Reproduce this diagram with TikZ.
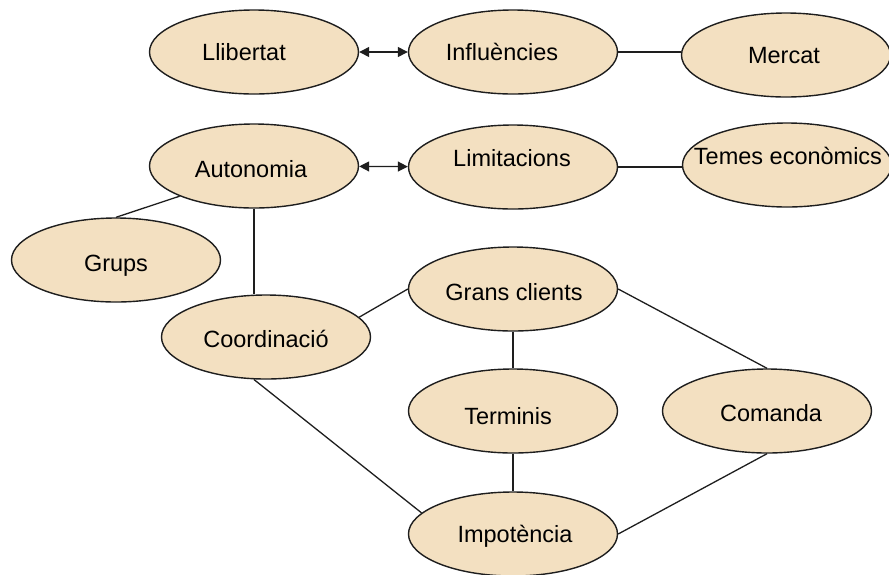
\documentclass[tikz,border=0pt]{standalone}
\usepackage{fontspec}
\setmainfont{Liberation Sans}
\usetikzlibrary{arrows.meta,shapes.geometric}
\definecolor{elfill}{RGB}{243,224,193}
\definecolor{elline}{RGB}{30,30,30}
\newcommand\cpttext[3]{\makebox[0pt]{\kern#1\kern#1\raisebox{#2}{#3}}}
\begin{document}
\begin{tikzpicture}[x=1pt,y=-1pt,
  concept/.style={ellipse,draw=elline,fill=elfill,line width=1.4pt,
    minimum width=209pt,minimum height=84pt,inner sep=0pt,
    text height=17pt,text depth=0pt,
    font=\fontsize{23.5}{28}\selectfont},
  link/.style={draw=elline,line width=1.3pt},
  both/.style={link,{Triangle[length=10pt,width=10pt]}-{Triangle[length=10pt,width=10pt]}}
]
\useasboundingbox (0,0) rectangle (889,574);
\node[concept] (llib) at (254,52) {\cpttext{-10pt}{0pt}{Llibertat}};
\node[concept] (infl) at (513,52) {\cpttext{-11pt}{0pt}{Influències}};
\node[concept] (merc) at (786,55) {\cpttext{-2pt}{0pt}{Mercat}};
\node[concept] (auto) at (254,166) {\cpttext{-3pt}{-3pt}{Autonomia}};
\node[concept] (limi) at (513,167) {\cpttext{-1pt}{9pt}{Limitacions}};
\node[concept] (teme) at (787,165) {\cpttext{1pt}{9pt}{Temes econòmics}};
\node[concept] (grup) at (116,260) {\cpttext{0pt}{-3pt}{Grups}};
\node[concept] (coor) at (266,337) {\cpttext{0pt}{-2pt}{Coordinació}};
\node[concept] (gran) at (513,289) {\cpttext{1pt}{-3pt}{Grans clients}};
\node[concept] (term) at (513,411) {\cpttext{-5pt}{-5pt}{Terminis}};
\node[concept] (coma) at (767,411) {\cpttext{4pt}{-2pt}{Comanda}};
\node[concept] (impo) at (513,534) {\cpttext{2pt}{0pt}{Impotència}};

\draw[both] (llib) -- (infl);
\draw[link] (infl.east) -- (infl.east -| merc.west);
\draw[both] (auto) -- (limi);
\draw[link] (limi.east) -- (limi.east -| teme.west);
\draw[link] (grup.north) -- (auto.south west);
\draw[link] (auto.south) -- (auto.south |- coor.north);
\draw[link] (coor.12) -- (gran.west);
\draw[link] (coor.254) -- (impo.167);
\draw[link] (gran.south) -- (term.north);
\draw[link] (gran.east) -- (coma.north);
\draw[link] (term.south) -- (impo.north);
\draw[link] (coma.south) -- (impo.east);
\end{tikzpicture}
\end{document}
